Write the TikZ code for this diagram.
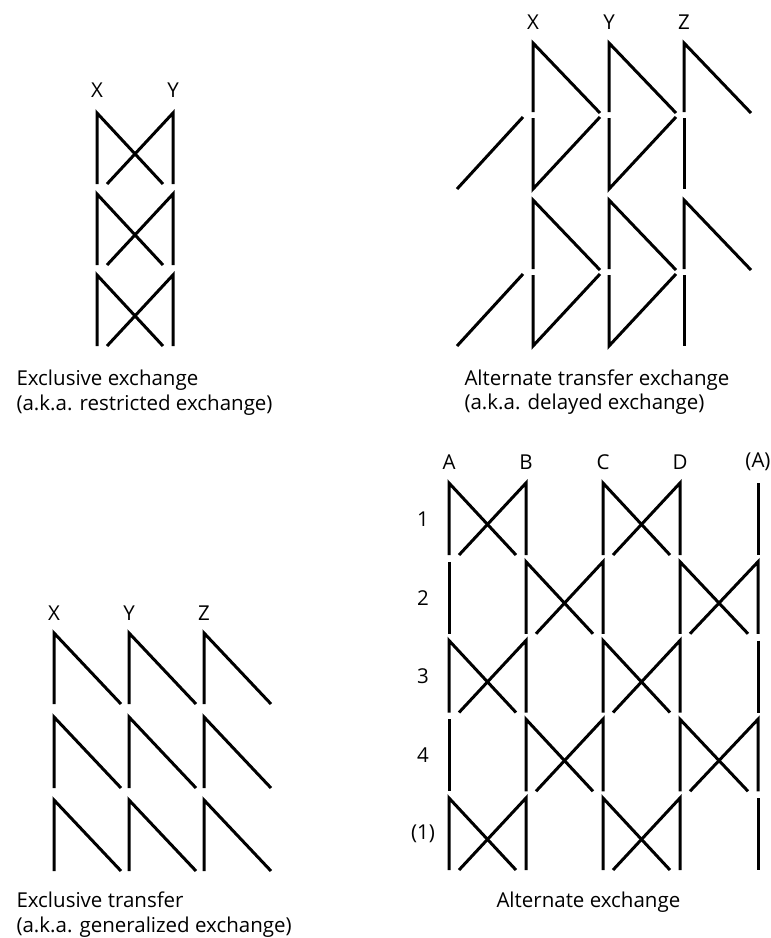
\documentclass[tikz,border=0pt]{standalone}
\usepackage{fontspec}
\setmainfont{Open Sans}
\usepackage{tikz}

\begin{document}
\begin{tikzpicture}[x=1pt,y=-1pt,line width=3pt,
  lbl/.style={font=\fontsize{20.5}{24.5}\selectfont},
  captext/.style={font=\fontsize{20.5}{24.5}\selectfont,align=left,anchor=base west,inner sep=0pt}]
  \useasboundingbox (0,0) rectangle (771,938);

  % exclusive exchange (top left): X and Y swap every generation
  \node[lbl] (tlX) at (97,90) {X};
  \node[lbl] (tlY) at (173,90) {Y};
  \foreach \t in {113,194,275} {
    \draw (97,\t+71) -- (97,\t) -- (163,\t+71);
    \draw (107,\t+71) -- (173,\t) -- (173,\t+71);
  }
  % base anchor sits on the last line
  \node[captext] (tlcap) at (15,410) {Exclusive exchange\\(a.k.a. restricted exchange)};

  % alternate transfer exchange (top right): two halves per generation
  \foreach \c/\n in {533/X,609/Y,684/Z} \node[lbl] (tr\n) at (\c,22) {\n};
  \foreach \t in {43,200} {
    \foreach \c in {533,609,684} {
      % upper half goes down to the right
      \draw (\c,\t+69) -- (\c,\t) -- (\c+67,\t+70);
    }
    % lower half comes back up from the left
    \foreach \c in {533,609}
      \draw (\c+67,\t+74) -- (\c,\t+146) -- (\c,\t+75);
    \draw (684,\t+75) -- (684,\t+146);
    \draw (457,\t+146) -- (523,\t+74);
  }
  \node[captext] (trcap) at (463,409.5) {Alternate transfer exchange\\(a.k.a. delayed exchange)};

  % exclusive transfer (bottom left)
  \foreach \c/\n in {54/X,129/Y,204/Z} \node[lbl] (bl\n) at (\c,613) {\n};
  \foreach \t in {633,717,800}
    \foreach \c in {54,129,204}
      \draw (\c,\t+71) -- (\c,\t) -- (\c+67,\t+71);
  \node[captext] (blcap) at (15,932) {Exclusive transfer\\(a.k.a. generalized exchange)};

  % alternate exchange (bottom right): pairs shift by one column each row
  \foreach \c/\n/\m in {449/A/A,526/B/B,603/C/C,680/D/D,758/Ax/(A)}
    \node[lbl] (br\n) at (\c,462) {\m};
  \foreach \r/\lab in {0/1,1/2,2/3,3/4,4/(1)} {
    \pgfmathsetmacro{\ytop}{483+78.75*\r}
    \node[lbl] (row\r) at (423,\ytop+36) {\lab};
    \pgfmathtruncatemacro{\odd}{mod(\r,2)}
    \ifnum\odd=0
      \foreach \a/\b in {449/526,603/680} {
        \draw (\a,\ytop+72) -- (\a,\ytop) -- (\b-10,\ytop+72);
        \draw (\a+10,\ytop+72) -- (\b,\ytop) -- (\b,\ytop+72);
      }
      \draw (758,\ytop) -- (758,\ytop+72);
    \else
      \draw (449,\ytop) -- (449,\ytop+72);
      \foreach \a/\b in {526/603,680/758} {
        \draw (\a,\ytop+72) -- (\a,\ytop) -- (\b-10,\ytop+72);
        \draw (\a+10,\ytop+72) -- (\b,\ytop) -- (\b,\ytop+72);
      }
    \fi
  }
  \node[captext] (brcap) at (495,907) {Alternate exchange};
\end{tikzpicture}
\end{document}
